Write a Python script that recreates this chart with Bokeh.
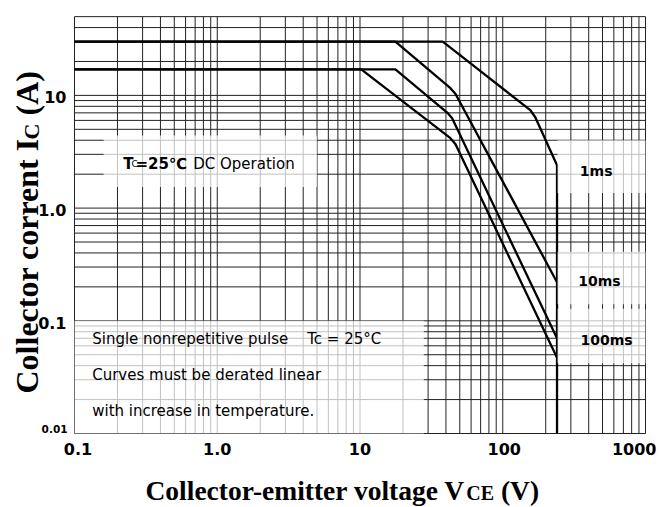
import math
from bokeh.plotting import figure
from bokeh.models import Label, BoxAnnotation
from bokeh.embed import file_html
from bokeh.resources import INLINE

# ---------------- data ----------------
x_ticks = [0.1, 1, 10, 100, 1000]
x_tick_labels = ["0.1", "1.0", "10", "100", "1000"]
y_ticks = [0.01, 0.1, 1, 10]
y_tick_labels = ["0.01", "0.1", "1.0", "10"]
x_limits = (0.1, 1000)
y_limits = (0.01, 50)

# SOA curves (V_CE in V, I_C in A)
v_1ms = [0.1, 38, 156, 169, 240, 240]
i_1ms = [30, 30, 7.4, 6.4, 2.4, 0.01]
v_10ms = [0.1, 17.7, 43, 46.7, 240]
i_10ms = [30, 30, 11.6, 10.3, 0.22]
v_100ms = [0.1, 17.7, 41, 44.2, 240]
i_100ms = [17, 17, 7.0, 6.26, 0.07]
v_dc = [0.1, 10.2, 43, 46.7, 240]
i_dc = [17, 17, 4.17, 3.68, 0.047]

curve_labels = ["1ms", "10ms", "100ms"]

# ---------------- layout ----------------
W, H = 662, 507
FX0, FY0 = 74, 433          # pixel of (0.1, 0.01)
PX_DEC_X, PX_DEC_Y = 142.75, 112.7
BASE_FIX = 6.5              # correction for alphabetic baseline placement

lx0 = math.log10(x_limits[0]) - FX0 / PX_DEC_X
lx1 = math.log10(x_limits[0]) + (W - FX0) / PX_DEC_X
ly0 = math.log10(y_limits[0]) - (H - FY0) / PX_DEC_Y
ly1 = math.log10(y_limits[0]) + FY0 / PX_DEC_Y

p = figure(width=W, height=H, x_axis_type="log", y_axis_type="log",
           x_range=(10 ** lx0, 10 ** lx1), y_range=(10 ** ly0, 10 ** ly1),
           x_axis_location=None, y_axis_location=None,
           output_backend="svg", toolbar_location=None,
           min_border=0)
p.outline_line_color = None
p.background_fill_color = "white"
p.border_fill_color = "white"
p.grid.visible = False

# grid lines (major + minor decades)
x_minor = [m * 10.0 ** k for k in range(-1, 3) for m in range(2, 10)]
y_minor = [m * 10.0 ** k for k in range(-2, 2) for m in range(2, 10)]
xg = sorted(x_ticks + x_minor)
yg = sorted([v for v in y_ticks + y_minor if v <= y_limits[1] * 1.0001])
grid_col = "#222222"
p.segment(x0=xg, x1=xg, y0=[y_limits[0]] * len(xg), y1=[y_limits[1]] * len(xg),
          line_color=grid_col, line_width=1)
p.segment(x0=[x_limits[0]] * len(yg), x1=[x_limits[1]] * len(yg), y0=yg, y1=yg,
          line_color=grid_col, line_width=1)

# semi-transparent text boxes over the grid
boxes = [
    (0.16, 5.0, 1.54, 4.4),
    (242, 1000, 1.36, 4.0),
    (242, 1000, 0.14, 0.41),
    (242, 1000, 0.042, 0.128),
    (0.1, 28, 0.01, 0.1),
]
for (l, r, b, t) in boxes:
    p.add_layout(BoxAnnotation(left=l, right=r, bottom=b, top=t, fill_color="white",
                               fill_alpha=0.72, line_alpha=0))

# curves
for vv, ii in ((v_1ms, i_1ms), (v_10ms, i_10ms), (v_100ms, i_100ms), (v_dc, i_dc)):
    p.line(vv, ii, line_color="black", line_width=2.3)


def txt(text, dx, dy, size, font="DejaVu Sans", style="normal", angle=0.0,
        align="left", baseline="alphabetic", x=None, y=None):
    if baseline == "alphabetic":
        if angle == 0.0:
            dy += BASE_FIX
        else:
            dx -= BASE_FIX
    p.add_layout(Label(x=x_limits[0] if x is None else x,
                       y=y_limits[0] if y is None else y,
                       x_offset=dx, y_offset=dy, text=text,
                       text_font=font, text_font_size=f"{size}px", text_font_style=style,
                       angle=angle, text_align=align, text_baseline=baseline,
                       text_color="black"))


# tick labels
x_shift = [3.5, 0, 0, 1.5, 11]
x_align = ["center", "center", "center", "center", "right"]
for t, lab, s, a in zip(x_ticks, x_tick_labels, x_shift, x_align):
    txt(lab, s, -22, 16, style="bold", align=a, x=t)
for t, lab in zip(y_ticks[1:], y_tick_labels[1:]):
    txt(lab, -8, -2, 16, style="bold", align="right", baseline="middle", y=t)
txt(y_tick_labels[0], -7, -2, 10.5, style="bold", align="right")

# annotations inside the plot
txt("T", 48.7, 263, 15, style="bold")
txt("C", 57, 263, 9)
txt("=25℃", 61, 263, 15, style="bold")
txt("DC Operation", 118.7, 263, 15)
txt(curve_labels[0], 505.3, 256, 14, style="bold")
txt(curve_labels[1], 503.7, 145.7, 14, style="bold")
txt(curve_labels[2], 506, 87, 14, style="bold")
txt("Single nonrepetitive pulse", 17.7, 88, 15)
txt("Tc = 25°C", 232.7, 88, 15)
txt("Curves must be derated linear", 17.7, 52.3, 15)
txt("with increase in temperature.", 17.7, 16.3, 15)

# axis titles with subscripts
serif = "Liberation Serif"
txt("Collector-emitter voltage V", 71, -63, 27.5, font=serif, style="bold")
txt("CE", 391.7, -66, 20, font=serif, style="bold")
txt("(V)", 426.4, -63, 27.5, font=serif, style="bold")

a = math.pi / 2
txt("Collector corrent I", -41, 40, 32, font=serif, style="bold", angle=a)
txt("C", -37, 294, 22, font=serif, style="bold", angle=a)
txt("(A)", -41, 318, 32, font=serif, style="bold", angle=a)

open("out.html", "w").write(file_html(p, INLINE))
